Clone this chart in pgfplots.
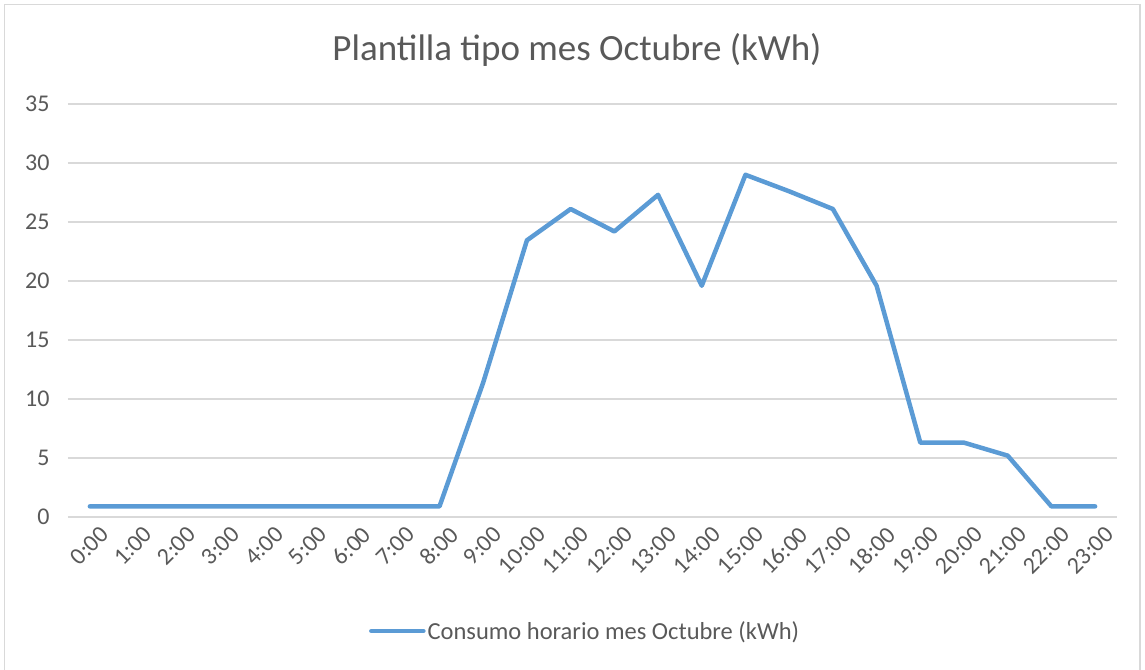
\documentclass[border=0pt]{standalone}
\usepackage{fontspec}
\setmainfont{Carlito}
\usepackage{pgfplots}
\pgfplotsset{compat=1.18}
\definecolor{txt}{HTML}{595959}
\definecolor{gridc}{HTML}{D9D9D9}
\definecolor{serie}{HTML}{5B9BD5}
\begin{document}
\begin{tikzpicture}
\useasboundingbox (-68pt,-152pt) rectangle (1077pt,517pt);
\draw[gridc, line width=1.2pt] (-63.5pt,-170pt) rectangle (1072pt,512.5pt);
\begin{axis}[
  scale only axis, width=1049pt, height=413pt,
  xmin=-0.5, xmax=23.5, ymin=0, ymax=35,
  ytick={0,5,...,35},
  xtick={0,...,23},
  xticklabels={0:00,1:00,2:00,3:00,4:00,5:00,6:00,7:00,8:00,9:00,10:00,11:00,
               12:00,13:00,14:00,15:00,16:00,17:00,18:00,19:00,20:00,21:00,22:00,23:00},
  axis line style={draw=none},
  major tick length=0pt,
  ymajorgrids, grid style={draw=gridc, line width=1.3pt},
  tick label style={font=\fontsize{24}{26}\selectfont, text=txt},
  xticklabel style={rotate=45, anchor=east, xshift=4pt, yshift=-20pt},
  yticklabel style={anchor=east, xshift=-15pt},
  /pgf/number format/assume math mode=true,
  legend style={at={(0.493,-0.276)}, anchor=center, draw=none, fill=none,
                font=\fontsize{24.5}{27}\selectfont, text=txt},
  legend image code/.code={\draw[#1, line width=4.5pt, line cap=round] (0pt,0pt) -- (52pt,0pt);},
  clip=false,
]
\addplot[serie, line width=4.5pt, line join=round, line cap=round] coordinates {
  (0,0.9) (1,0.9) (2,0.9) (3,0.9) (4,0.9) (5,0.9) (6,0.9) (7,0.9) (8,0.9)
  (9,11.4) (10,23.45) (11,26.1) (12,24.2) (13,27.3) (14,19.6) (15,29.0)
  (16,27.6) (17,26.1) (18,19.6) (19,6.3) (20,6.3) (21,5.2) (22,0.9) (23,0.9)
};
\addlegendentry{Consumo horario mes Octubre (kWh)}
\end{axis}
\node[text=txt, font=\fontsize{37}{40}\selectfont] at (509pt,467pt) {Plantilla tipo mes Octubre (kWh)};
\end{tikzpicture}
\end{document}
